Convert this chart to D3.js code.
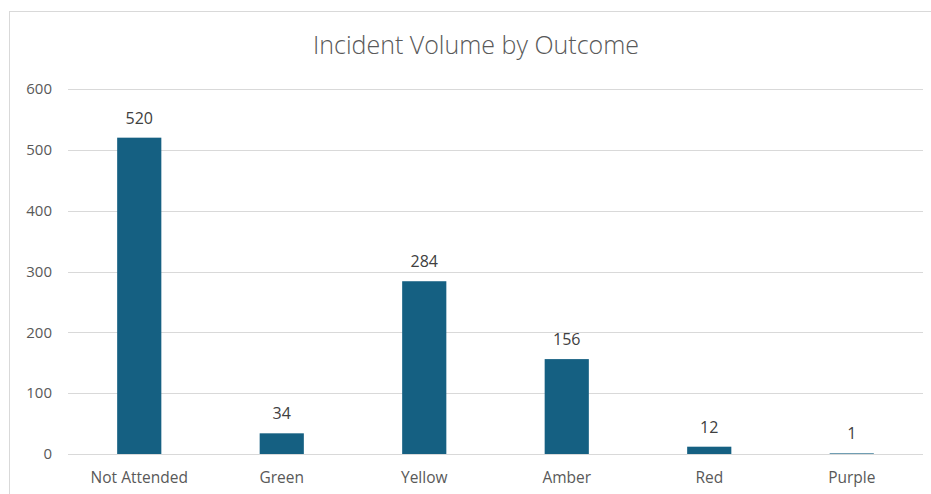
<!DOCTYPE html>
<html>
<head>
<meta charset="utf-8">
<script src="https://cdn.jsdelivr.net/npm/d3@7"></script>
<style>
  body { margin: 0; background: #fff; }
  svg { display: block; font-family: "Open Sans", "Noto Sans", sans-serif; }
</style>
</head>
<body>
<svg></svg>
<script>
let width = 931, height = 494;

// data
const categories = ["Not Attended", "Green", "Yellow", "Amber", "Red", "Purple"];
const counts = [520, 34, 284, 156, 12, 1];
const yTicks = [0, 100, 200, 300, 400, 500, 600];

let margin = { top: 89, right: 8, bottom: 40, left: 68 };

let svg = d3.select("svg")
    .attr("width", width)
    .attr("height", height);

// chart border
svg.append("rect")
    .attr("x", 9.5).attr("y", 11.5)
    .attr("width", width + 10).attr("height", height + 10)
    .attr("fill", "none")
    .attr("stroke", "#d9d9d9");

// title
svg.append("text")
    .attr("x", 476).attr("y", 54)
    .attr("text-anchor", "middle")
    .style("font-size", "25px")
    .style("font-family", "\"Open Sans\", sans-serif")
    .style("font-weight", 300)
    .style("fill", "#595959")
    .text("Incident Volume by Outcome");

let x = d3.scaleBand()
    .domain(categories)
    .range([margin.left, width - margin.right])
    .paddingInner(0.69)
    .paddingOuter(0.345);

let y = d3.scaleLinear()
    .domain([0, 600])
    .range([height - margin.bottom, margin.top]);

// gridlines
svg.append("g")
    .selectAll("line")
    .data(yTicks)
    .enter()
    .append("line")
    .attr("x1", margin.left)
    .attr("x2", width - margin.right)
    .attr("y1", d => Math.round(y(d)) + 0.5)
    .attr("y2", d => Math.round(y(d)) + 0.5)
    .attr("stroke", "#d9d9d9")
    .attr("stroke-width", 1.2);

// y axis labels
let yAxis = svg.append("g")
    .attr("transform", "translate(" + 52 + ",0)")
    .call(d3.axisLeft(y).tickValues(yTicks).tickSize(0).tickPadding(0));
yAxis.select(".domain").remove();
yAxis.selectAll("text")
    .style("font-size", "15px")
    .style("font-family", "\"Open Sans\", sans-serif")
    .style("fill", "#595959");

// x axis labels
let xAxis = svg.append("g")
    .attr("transform", "translate(0," + (height - margin.bottom) + ")")
    .call(d3.axisBottom(x).tickSize(0).tickPadding(18));
xAxis.select(".domain").remove();
xAxis.selectAll("text")
    .style("font-size", "15.5px")
    .style("font-family", "\"Open Sans\", sans-serif")
    .style("fill", "#595959");

// bars
svg.append("g")
    .selectAll("rect")
    .data(categories)
    .enter()
    .append("rect")
    .attr("x", d => x(d))
    .attr("y", (d, i) => y(counts[i]))
    .attr("width", x.bandwidth())
    .attr("height", (d, i) => y(0) - y(counts[i]))
    .attr("fill", "#156082");

// value labels
svg.append("g")
    .selectAll("text")
    .data(categories)
    .enter()
    .append("text")
    .attr("x", d => x(d) + x.bandwidth() / 2)
    .attr("y", (d, i) => y(counts[i]) - 14)
    .attr("text-anchor", "middle")
    .style("font-size", "16px")
    .style("fill", "#404040")
    .text((d, i) => counts[i]);
</script>
</body>
</html>
